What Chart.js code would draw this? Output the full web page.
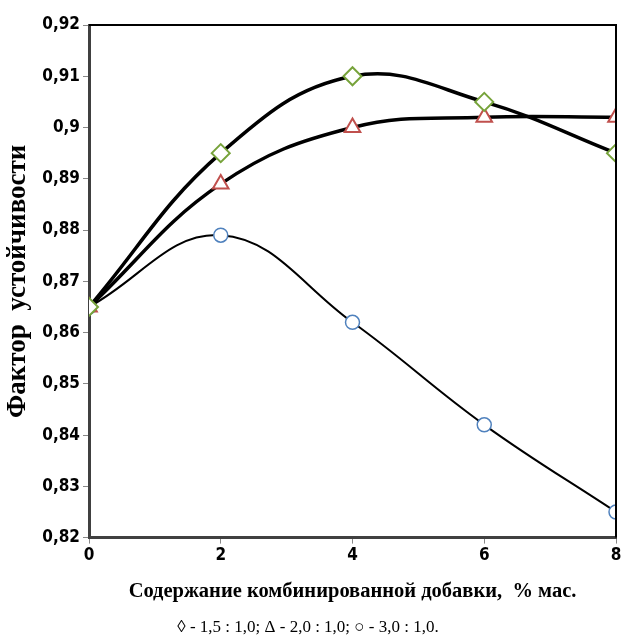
<!DOCTYPE html>
<html>
<head>
<meta charset="utf-8">
<script src="https://cdn.jsdelivr.net/npm/chart.js@4"></script>
<style>
  body { margin: 0; background: #fff; }
</style>
</head>
<body>
<canvas id="myChart" width="627" height="638"></canvas>
<script>
const xValues = [0, 2, 4, 6, 8];
const diamondValues = [0.865, 0.895, 0.910, 0.905, 0.895];
const triangleValues = [0.865, 0.889, 0.900, 0.902, 0.902];
const circleValues = [0.865, 0.879, 0.862, 0.842, 0.825];
const yTicks = [0.82, 0.83, 0.84, 0.85, 0.86, 0.87, 0.88, 0.89, 0.90, 0.91, 0.92];

const toPoints = (vals) => vals.map((v, i) => ({ x: xValues[i], y: v }));

// top and right frame lines
const frame = {
    id: 'frame',
    afterDatasetsDraw(chart) {
        const { ctx, chartArea: a } = chart;
        ctx.save();
        ctx.strokeStyle = '#000';
        ctx.lineWidth = 2;
        ctx.beginPath();
        ctx.moveTo(a.left, a.top);
        ctx.lineTo(a.right, a.top);
        ctx.lineTo(a.right, a.bottom);
        ctx.stroke();
        ctx.restore();
    }
};

document.addEventListener('DOMContentLoaded', () => {
    const ctx = document.getElementById('myChart').getContext('2d');
    const tickFont = { family: "'Liberation Sans Narrow', 'DejaVu Sans Condensed', sans-serif", size: 17, weight: 'bold' };

    new Chart(ctx, {
        type: 'line',
        data: {
            datasets: [{
                label: '1,5 : 1,0',
                data: toPoints(diamondValues),
                borderColor: '#000',
                borderWidth: 3.5,
                tension: 0.4,
                pointStyle: 'rectRot',
                pointRadius: 9,
                pointBorderWidth: 2,
                pointBorderColor: '#77a33b',
                pointBackgroundColor: '#fff'
            }, {
                label: '2,0 : 1,0',
                data: toPoints(triangleValues),
                borderColor: '#000',
                borderWidth: 3.5,
                tension: 0.4,
                pointStyle: 'triangle',
                pointRadius: 9,
                pointBorderWidth: 2,
                pointBorderColor: '#c0504d',
                pointBackgroundColor: '#fff'
            }, {
                label: '3,0 : 1,0',
                data: toPoints(circleValues),
                borderColor: '#000',
                borderWidth: 2,
                tension: 0.4,
                pointStyle: 'circle',
                pointRadius: 7,
                pointBorderWidth: 1.5,
                pointBorderColor: '#4f81bd',
                pointBackgroundColor: '#fff'
            }]
        },
        options: {
            responsive: false,
            animation: false,
            layout: { padding: { top: 25, right: 11, left: 0, bottom: 0 } },
            plugins: {
                legend: { display: false },
                tooltip: { enabled: false },
                title: {
                    display: true,
                    position: 'bottom',
                    text: '◊ - 1,5 : 1,0; Δ - 2,0 : 1,0; ○ - 3,0 : 1,0.',
                    color: '#000',
                    font: { family: "'Liberation Serif', serif", size: 17, weight: 'normal' },
                    padding: { top: 8, bottom: 0 }
                }
            },
            scales: {
                x: {
                    type: 'linear',
                    min: 0,
                    max: 8,
                    afterFit: (scale) => { scale.height = 72; },
                    ticks: { stepSize: 2, color: '#000', font: tickFont, padding: 2 },
                    grid: { display: true, drawOnChartArea: false, tickLength: 6, color: '#888' },
                    border: { display: true, color: '#404040', width: 3 },
                    title: {
                        display: true,
                        text: 'Содержание комбинированной добавки,  % мас.',
                        color: '#000',
                        font: { family: "'Liberation Serif', serif", size: 20.5, weight: 'bold' },
                        padding: { top: 0, bottom: 6 }
                    }
                },
                y: {
                    min: 0.82,
                    max: 0.92,
                    afterFit: (scale) => { scale.width = 89; },
                    afterBuildTicks: (scale) => { scale.ticks = yTicks.map(v => ({ value: v })); },
                    ticks: {
                        color: '#000',
                        font: tickFont,
                        padding: 3,
                        callback: (v) => String(Math.round(v * 100) / 100).replace('.', ',')
                    },
                    grid: { display: true, drawOnChartArea: false, tickLength: 6, color: '#888' },
                    border: { display: true, color: '#404040', width: 3 },
                    title: {
                        display: true,
                        text: 'Фактор  устойчивости',
                        color: '#000',
                        font: { family: "'Liberation Serif', serif", size: 27, weight: 'bold' },
                        padding: { top: 2, bottom: 0 }
                    }
                }
            }
        },
        plugins: [frame]
    });
});
</script>
</body>
</html>
